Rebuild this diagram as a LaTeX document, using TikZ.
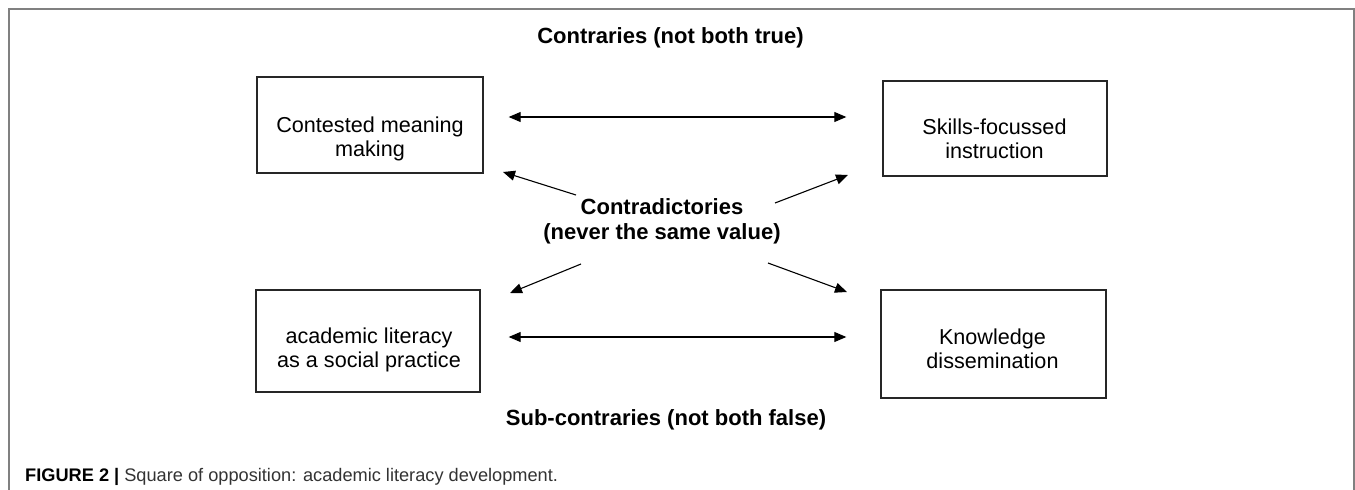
\documentclass[tikz,border=0pt]{standalone}
\usepackage{fontspec}
\setmainfont{Liberation Sans}
\usetikzlibrary{arrows.meta}
\begin{document}
\begin{tikzpicture}[x=1pt,y=-1pt,
  boxst/.style={draw=black!85,line width=1.4pt,inner sep=0pt},
  boxtext/.style={font=\fontsize{21.6}{24}\selectfont,align=center,anchor=base,inner sep=0pt},
  titlest/.style={font=\fontsize{22}{25}\selectfont\bfseries,anchor=base,inner sep=0pt},
  arr/.style={line width=1.1pt,-{Triangle[length=12pt,width=10pt]}},
  dbl/.style={line width=1.1pt,{Triangle[length=12pt,width=10pt]}-{Triangle[length=12pt,width=10pt]}}]
\useasboundingbox (0,0) rectangle (1355,490);
\draw[black!50, line width=1.5pt] (9,490) -- (9,9) -- (1354,9) -- (1354,490);
% boxes
\node[boxst,minimum width=226pt,minimum height=96pt] (tl) at (370,125) {};
\node[boxst,minimum width=224pt,minimum height=95pt] (tr) at (995,128.5) {};
\node[boxst,minimum width=224pt,minimum height=102pt] (bl) at (368,341) {};
\node[boxst,minimum width=225pt,minimum height=108pt] (br) at (993.5,344) {};
% box texts (anchor base = baseline of last line)
\node[boxtext] (tltext) at (370,156) {Contested meaning\\making};
\node[boxtext] (trtext) at (994.5,158) {Skills-focussed\\instruction};
\node[boxtext] (bltext) at (369,367) {academic literacy\\as a social practice};
\node[boxtext] (brtext) at (992.5,368) {Knowledge\\dissemination};
% titles
\node[titlest] (top) at (670.5,43) {Contraries (not both true)};
\node[titlest] (bottom) at (666,425) {Sub-contraries (not both false)};
\node[titlest] (contraA) at (662,214) {Contradictories};
\node[titlest] (contraB) at (662,239) {(never the same value)};
% horizontal arrows
\draw[dbl,shorten <=25pt,shorten >=36pt] ([yshift=8pt]tl.east) -- ([yshift=8pt]tl.east -| tr.west);
\draw[dbl,shorten <=28pt,shorten >=34pt] ([yshift=4pt]bl.east) -- ([yshift=4pt]bl.east -| br.west);
% diagonal arrows
\coordinate (c1) at (576,195); \coordinate (h1) at (503,172);
\coordinate (c2) at (775,203); \coordinate (h2) at (848,175);
\coordinate (c3) at (581,264); \coordinate (h3) at (510,293);
\coordinate (c4) at (768,263); \coordinate (h4) at (847,292);
\draw[arr] (c1) -- (h1);
\draw[arr] (c2) -- (h2);
\draw[arr] (c3) -- (h3);
\draw[arr] (c4) -- (h4);
% caption
\node[anchor=base west,inner sep=0pt,font=\fontsize{18.2}{20}\selectfont] (cap) at (25,481) {\textbf{FIGURE 2 |} \color{black!80}Square of opposition: academic literacy development.};
\end{tikzpicture}
\end{document}
